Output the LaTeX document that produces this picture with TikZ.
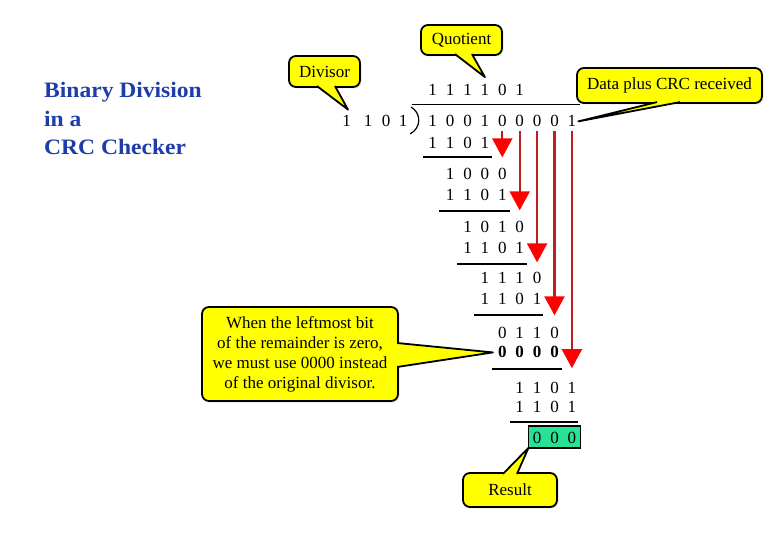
\documentclass[tikz,border=0pt]{standalone}
\usepackage{fontspec}
\setmainfont{Liberation Serif}
\newfontfamily\titlefont[FakeStretch=1.07]{Liberation Serif}
\usetikzlibrary{arrows.meta,shadows}
\definecolor{titleblue}{RGB}{30,60,170}
\definecolor{callyellow}{RGB}{255,255,0}
\definecolor{resgreen}{RGB}{40,225,150}
\definecolor{arrowred}{RGB}{190,30,30}
\newcommand\digrow[5][]{\foreach \d [count=\i] in {#5} {\node[dig,#1] (#2-\i) at ({432.7+(#3+\i-2)*17.4},#4) {\d};}}
\tikzset{
  dig/.style={anchor=base, inner sep=0pt, font=\fontsize{17}{20}\selectfont},
  boldig/.style={font=\fontsize{17}{20}\selectfont\bfseries},
  callbox/.style={draw=black, line width=1.8pt, fill=callyellow, rounded corners=7pt,
    inner sep=0pt, outer sep=0pt, font=\fontsize{17}{20}\selectfont, align=center,
    drop shadow={shadow xshift=1.5pt, shadow yshift=-1.5pt, fill=black!22}},
  tailfill/.style={fill=callyellow},
  tailline/.style={draw=black, line width=1.8pt, line join=round},
  uline/.style={line width=1.4pt},
  redarrow/.style={draw=arrowred, line width=2.2pt, -{Triangle[width=20pt,length=19pt,color=red]}},
  resbox/.style={draw=black, line width=1.6pt, fill=resgreen, minimum width=52pt, minimum height=22pt, inner sep=0pt},
  titletext/.style={anchor=base west, inner sep=0pt, text=titleblue, font=\titlefont\fontsize{22}{28}\selectfont\bfseries}
}
\begin{document}
\begin{tikzpicture}[x=1pt,y=-1pt]
\useasboundingbox (0,0) rectangle (780,540);
% title
\node[titletext] (t1) at (44,98) {Binary Division};
\node[titletext] (t2) at (44,127) {in a};
\node[titletext] (t3) at (44,155) {CRC Checker};
% result box
\node[resbox] (res) at (554.3,437) {};
% digits
\digrow{q}{1}{96}{1,1,1,1,0,1}
\digrow{dd}{1}{127}{1,0,0,1,0,0,0,0,1}
\foreach \x/\d [count=\i] in {346.7/1,368/1,386/0,403/1} {\node[dig] (dv-\i) at (\x,127) {\d};}
\digrow{ra}{1}{149}{1,1,0,1}
\digrow{rb}{2}{180}{1,0,0,0}
\digrow{rc}{2}{201}{1,1,0,1}
\digrow{rd}{3}{233}{1,0,1,0}
\digrow{re}{3}{254}{1,1,0,1}
\digrow{rf}{4}{284}{1,1,1,0}
\digrow{rg}{4}{305}{1,1,0,1}
\digrow{rh}{5}{338}{0,1,1,0}
\digrow[boldig]{zr}{5}{358}{0,0,0,0}
\digrow{ri}{6}{393}{1,1,0,1}
\digrow{rj}{6}{413}{1,1,0,1}
\digrow{rk}{7}{443}{0,0,0}
% division bracket and lines
\draw[line width=1pt] (412,104.5) -- (580,104.5);
\draw[line width=1.2pt] (411,107) .. controls (421.5,113) and (421.5,128) .. (410,134);
\draw[uline] (423,157) -- (492,157);
\draw[uline] (439,211) -- (510,211);
\draw[uline] (457,264) -- (527,264);
\draw[uline] (474,315) -- (543,315);
\draw[uline] (492,369) -- (562,369);
\draw[uline] (510,422) -- (578,422);
% red arrows
\draw[redarrow] ([yshift=-4pt]dd-5.south) -- ++(0,26);
\draw[redarrow] ([yshift=-4pt]dd-6.south) -- ++(0,79);
\draw[redarrow] ([yshift=-4pt]dd-7.south) -- ++(0,131);
\draw[redarrow] ([yshift=-4pt]dd-8.south) -- ++(0,184);
\draw[redarrow] ([yshift=-4pt]dd-9.south) -- ++(0,237);
% callouts
\node[callbox, minimum width=81pt, minimum height=30pt] (quot) at (461.5,40) {Quotient};
\coordinate (qtip) at ([yshift=7.5pt]q-4.north);
\fill[tailfill] ([xshift=-6.5pt,yshift=1.3pt]quot.south) -- (qtip) -- ([xshift=10.5pt,yshift=1.3pt]quot.south) -- cycle;
\draw[tailline] ([xshift=-6.5pt,yshift=0.9pt]quot.south) -- (qtip) -- ([xshift=10.5pt,yshift=0.9pt]quot.south);

\node[callbox, minimum width=71pt, minimum height=31pt] (divs) at (324.5,71.5) {Divisor};
\coordinate (dtip) at ([xshift=1.3pt,yshift=6pt]dv-1.north);
\fill[tailfill] ([xshift=-7.5pt,yshift=1.3pt]divs.south) -- (dtip) -- ([xshift=10.5pt,yshift=1.3pt]divs.south) -- cycle;
\draw[tailline] ([xshift=-7.5pt,yshift=0.9pt]divs.south) -- (dtip) -- ([xshift=10.5pt,yshift=0.9pt]divs.south);

\node[callbox, minimum width=185pt, minimum height=35pt] (data) at (669.5,85.5) {Data plus CRC received};
\coordinate (ctip) at ([xshift=2pt]dd-9.east);
\fill[tailfill] ([xshift=-12.5pt,yshift=1.3pt]data.south) -- (ctip) -- ([xshift=10.5pt,yshift=1.3pt]data.south) -- cycle;
\draw[tailline] ([xshift=-12.5pt,yshift=0.9pt]data.south) -- (ctip) -- ([xshift=10.5pt,yshift=0.9pt]data.south);

\node[callbox, minimum width=196pt, minimum height=94pt] (note) at (300,354) {When the leftmost bit\\of the remainder is zero,\\we must use 0000 instead\\of the original divisor.};
\coordinate (ntip) at ([xshift=-5pt]zr-1.west);
\fill[tailfill] ([xshift=-1.3pt,yshift=11pt]note.east) -- (ntip) -- ([xshift=-1.3pt,yshift=-13pt]note.east) -- cycle;
\draw[tailline] ([xshift=-0.9pt,yshift=11pt]note.east) -- (ntip) -- ([xshift=-0.9pt,yshift=-13pt]note.east);

\node[callbox, minimum width=94pt, minimum height=34pt] (reslt) at (510,490) {Result};
\coordinate (rtip) at ([xshift=1pt,yshift=1pt]res.south west);
\fill[tailfill] ([xshift=-7pt,yshift=-1.3pt]reslt.north) -- (rtip) -- ([xshift=7pt,yshift=-1.3pt]reslt.north) -- cycle;
\draw[tailline] ([xshift=-7pt,yshift=-0.9pt]reslt.north) -- (rtip) -- ([xshift=7pt,yshift=-0.9pt]reslt.north);
\end{tikzpicture}
\end{document}
